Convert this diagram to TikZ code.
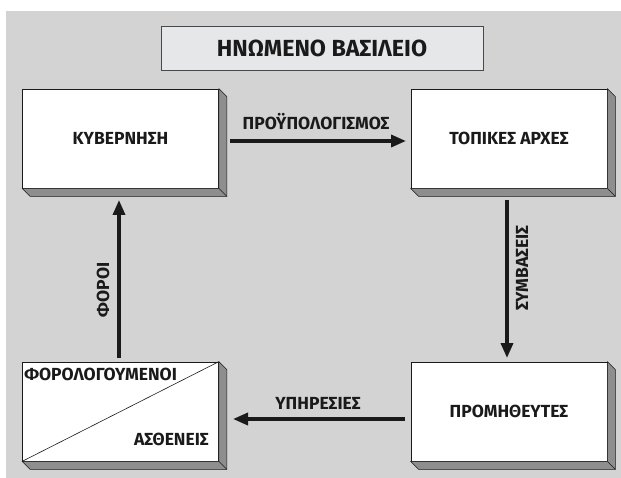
\documentclass[tikz,border=0pt]{standalone}
\usepackage{fontspec}
\setmainfont{Fira Sans}
\usetikzlibrary{calc,arrows.meta}
\definecolor{bggray}{HTML}{D3D3D3}
\definecolor{titlefill}{HTML}{E6E7E9}
\definecolor{facegray}{HTML}{8E8E8E}
\definecolor{ink}{HTML}{1A1A1A}
\tikzset{
  box/.style={draw=ink, line width=0.8pt, fill=white, minimum width=196pt, minimum height=99pt, inner sep=0pt, font=\bfseries\fontsize{17.5}{20}\selectfont, text=ink},
  shadowface/.style={fill=facegray, draw=ink, line width=0.6pt, line join=round},
  flow/.style={draw=ink, line width=3.4pt, -{Triangle[length=15pt,width=12pt]}},
  lbl/.style={font=\bfseries\fontsize{17.5}{20}\selectfont, text=ink, inner sep=0pt},
}
\newcommand\myextrude[1]{%
  \filldraw[shadowface] (#1.north east) -- ++(8,8) -- ($(#1.south east)+(8,8)$) -- ($(#1.south west)+(8,8)$) -- (#1.south west) -- (#1.south east) -- cycle;
  \draw[ink, line width=0.6pt] (#1.south east) -- ++(8,8);}
\begin{document}
\begin{tikzpicture}[x=1pt,y=-1pt]
\useasboundingbox (0,0) rectangle (621,478);
\fill[white] (0,0) rectangle (621,478);
\fill[bggray] (6,11) rectangle (621,478);
% title
\node[draw=ink!80, line width=0.8pt, fill=titlefill, minimum width=322pt, minimum height=44pt, inner sep=0pt, font=\bfseries\fontsize{23.3}{26}\selectfont, text=ink] (title) at (322,48) {ΗΝΩΜΕΝΟ ΒΑΣΙΛΕΙΟ};
% boxes
\node[box] (gov) at (120.5,138.5) {ΚΥΒΕΡΝΗΣΗ};
\node[box] (local) at (509,138.5) {ΤΟΠΙΚΕΣ ΑΡΧΕΣ};
\node[box] (tax) at (120.5,411.5) {};
\node[box] (supp) at (509,411.5) {ΠΡΟΜΗΘΕΥΤΕΣ};
\myextrude{gov}
\myextrude{local}
\myextrude{tax}
\myextrude{supp}
\draw[ink, line width=0.6pt] (tax.south west) -- (tax.north east);
\node[lbl, anchor=west] (taxpayers) at ($(tax.north west)+(2,13)$) {ΦΟΡΟΛΟΓΟΥΜΕΝΟΙ};
\node[lbl, anchor=east] (patients) at ($(tax.south east)+(-10,-22)$) {ΑΣΘΕΝΕΙΣ};
% arrows
\coordinate (a1s) at (230,141);
\coordinate (a1e) at (406,141);
\draw[flow] (a1s) -- (a1e);
\node[lbl] (budget) at (316,122) {ΠΡΟΫΠΟΛΟΓΙΣΜΟΣ};
\coordinate (a2s) at (507,200);
\coordinate (a2e) at (507,358);
\draw[flow] (a2s) -- (a2e);
\node[lbl, rotate=90] (contracts) at (522,268) {ΣΥΜΒΑΣΕΙΣ};
\coordinate (a3s) at (405,419);
\coordinate (a3e) at (233,419);
\draw[flow] (a3s) -- (a3e);
\node[lbl] (services) at (318,403) {ΥΠΗΡΕΣΙΕΣ};
\coordinate (a4s) at (119,358);
\coordinate (a4e) at (119,200);
\draw[flow] (a4s) -- (a4e);
\node[lbl, rotate=90] (taxes) at (103,290) {ΦΟΡΟΙ};
\end{tikzpicture}
\end{document}
